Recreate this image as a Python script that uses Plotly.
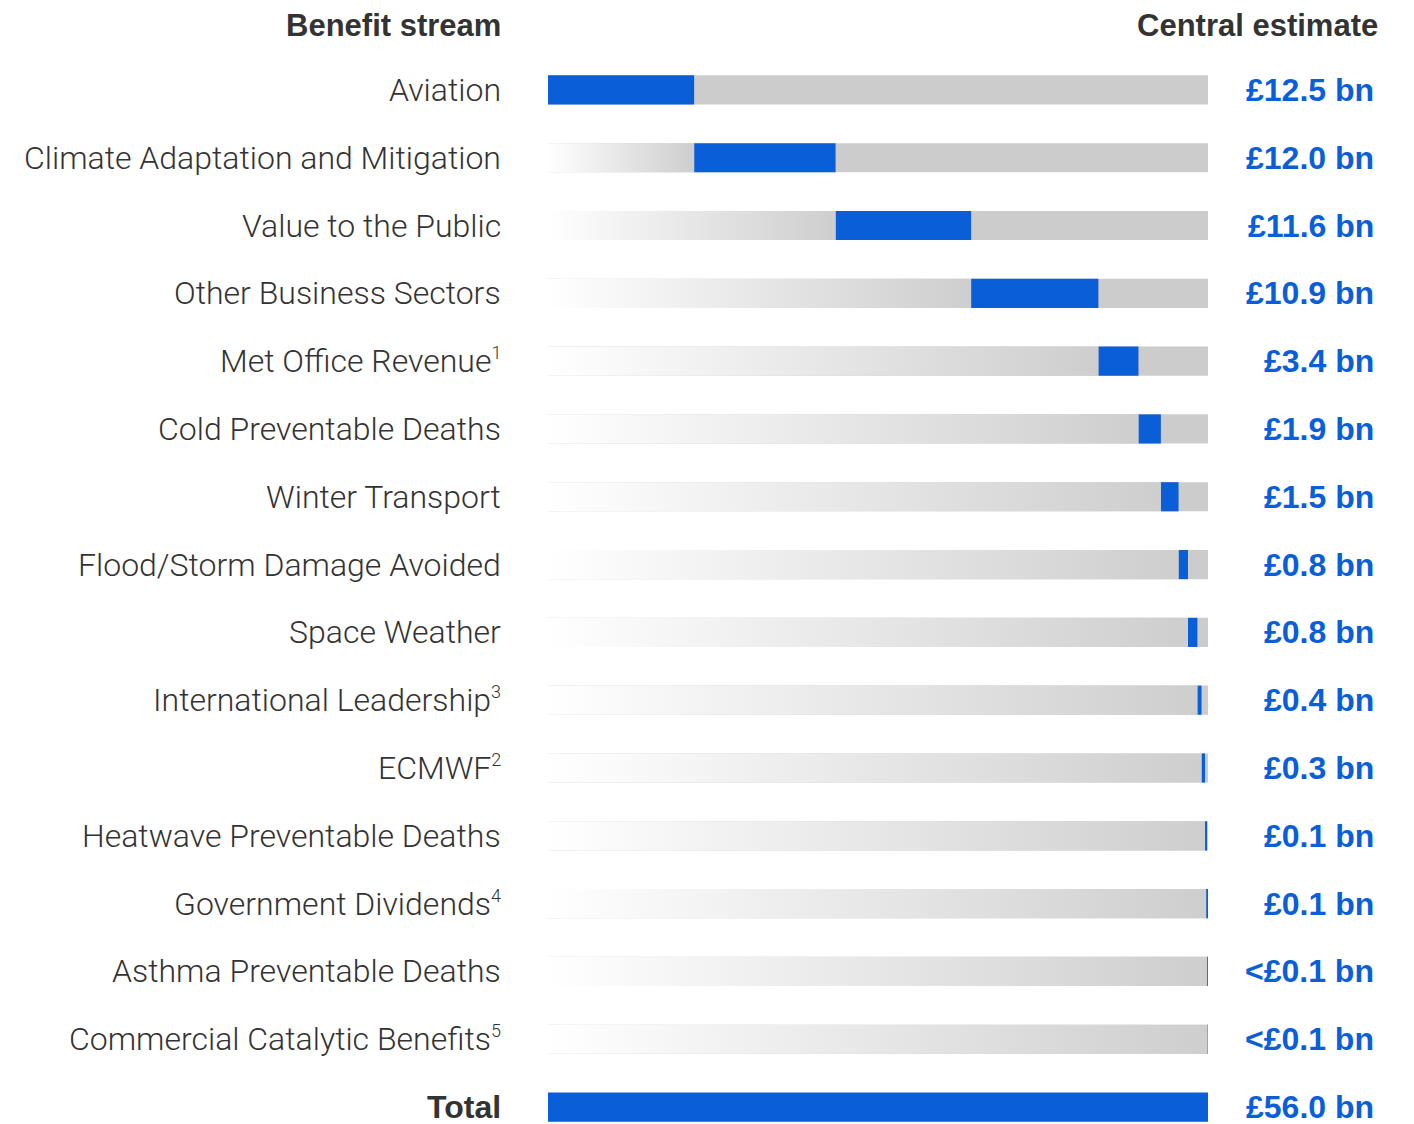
import plotly.graph_objects as go

SUP = "<sup><span style='font-size:18px'>{}</span></sup>"
labels = ["Aviation", "Climate Adaptation and Mitigation", "Value to the Public",
          "Other Business Sectors", "Met Office Revenue" + SUP.format(1), "Cold Preventable Deaths",
          "Winter Transport", "Flood/Storm Damage Avoided", "Space Weather",
          "International Leadership" + SUP.format(3), "ECMWF" + SUP.format(2),
          "Heatwave Preventable Deaths",
          "Government Dividends" + SUP.format(4), "Asthma Preventable Deaths",
          "Commercial Catalytic Benefits" + SUP.format(5)]
values = [12.4, 12.0, 11.5, 10.8, 3.4, 1.9, 1.5, 0.8, 0.8, 0.35, 0.3, 0.1, 0.08, 0.04, 0.03]
value_text = ["£12.5 bn", "£12.0 bn", "£11.6 bn", "£10.9 bn", "£3.4 bn", "£1.9 bn", "£1.5 bn",
              "£0.8 bn", "£0.8 bn", "£0.4 bn", "£0.3 bn", "£0.1 bn", "£0.1 bn", "<£0.1 bn", "<£0.1 bn"]
total_label = "Total"
total_value = 56.0
total_text = "£56.0 bn"

BLUE = "#0a5ed8"
GREY = "#cccccc"
TEXT = "#333333"
H = 0.43

starts = []
acc = 0.0
for v in values:
    starts.append(acc)
    acc += v

n = len(values)
rows = list(range(n))

fig = go.Figure()
# grey background
fig.add_trace(go.Bar(y=rows, x=[total_value] * n, base=[0] * n, orientation="h",
                     marker=dict(color=GREY, line=dict(width=0)), width=H, hoverinfo="skip"))
# blue segments
fig.add_trace(go.Bar(y=rows, x=values, base=starts, orientation="h",
                     marker=dict(color=BLUE, line=dict(width=0)), width=H, hoverinfo="skip"))
# total
fig.add_trace(go.Bar(y=[n], x=[total_value], base=[0], orientation="h",
                     marker=dict(color=BLUE, line=dict(width=0)), width=H, hoverinfo="skip"))
# gradient before each segment
for i, s in enumerate(starts):
    if s <= 0:
        continue
    fig.add_trace(go.Scatter(
        x=[0, s, s, 0, 0], y=[i - H / 2, i - H / 2, i + H / 2, i + H / 2, i - H / 2],
        mode="lines", line=dict(width=0), fill="toself",
        fillgradient=dict(type="horizontal", start=0, stop=s,
                          colorscale=[[0, "#ffffff"], [1, "#cecece"]]),
        hoverinfo="skip", showlegend=False))

ann = []
LFONT = dict(family="Roboto", size=32, color=TEXT, weight=300)
VFONT = dict(family="Liberation Sans", size=32, color=BLUE, weight="bold")
HFONT = dict(family="Liberation Sans", size=31, color=TEXT, weight="bold")
for i, lab in enumerate(labels):
    ann.append(dict(text=lab, xref="paper", x=0, xshift=-45, xanchor="right",
                    yref="y", y=i, yanchor="middle", showarrow=False, font=LFONT))
    ann.append(dict(text=value_text[i], xref="paper", x=1, xshift=168, xanchor="right",
                    yref="y", y=i, yanchor="middle", showarrow=False, font=VFONT))
ann.append(dict(text=total_label, xref="paper", x=0, xshift=-45, xanchor="right",
                yref="y", y=n, yanchor="middle", showarrow=False, font=dict(HFONT, size=32)))
ann.append(dict(text=total_text, xref="paper", x=1, xshift=168, xanchor="right",
                yref="y", y=n, yanchor="middle", showarrow=False, font=VFONT))
ann.append(dict(text="Benefit stream", xref="paper", x=0, xshift=-45, xanchor="right",
                yref="paper", y=(1124 - 25) / 1068, yanchor="middle", showarrow=False, font=HFONT))
ann.append(dict(text="Central estimate", xref="paper", x=1, xshift=172, xanchor="right",
                yref="paper", y=(1124 - 25) / 1068, yanchor="middle", showarrow=False, font=HFONT))

fig.update_layout(
    width=1406, height=1116,
    margin=dict(l=540, r=206, t=48, b=0),
    paper_bgcolor="white", plot_bgcolor="white",
    barmode="overlay", showlegend=False,
    xaxis=dict(range=[0, total_value], visible=False, fixedrange=True),
    yaxis=dict(range=[n + 0.25, -0.5], visible=False, fixedrange=True),
    annotations=ann,
)
fig.write_html("out.html")
